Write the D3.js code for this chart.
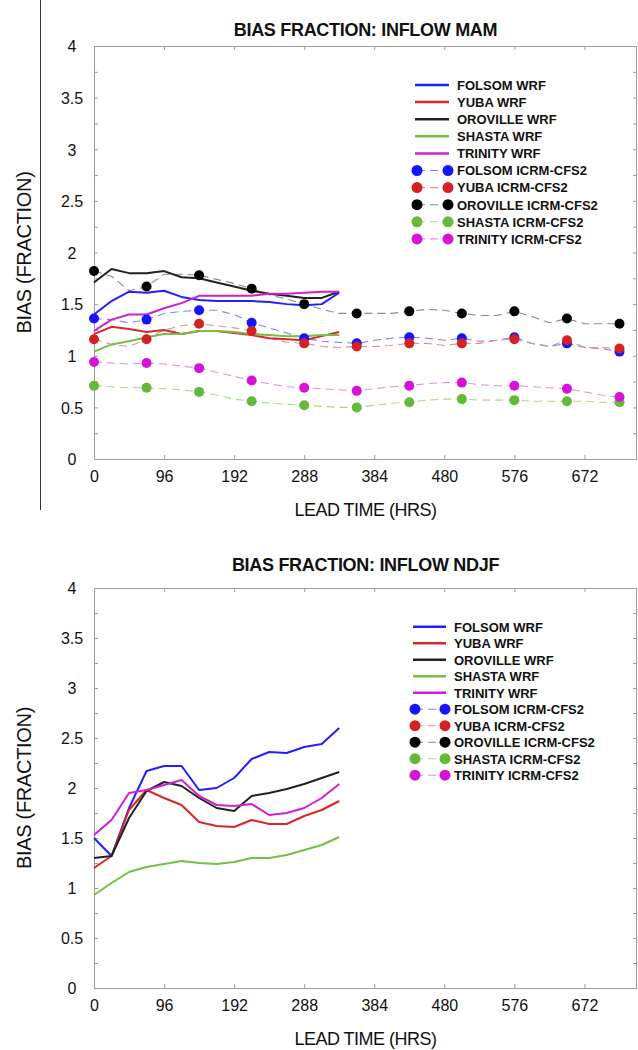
<!DOCTYPE html>
<html><head><meta charset="utf-8">
<script src="https://cdn.jsdelivr.net/npm/d3@7"></script>
<style>
html,body{margin:0;padding:0;background:#fff;}
svg text{font-family:"Liberation Sans",Arial,Helvetica,sans-serif;fill:#111;}
</style></head><body>
<svg id="fig" width="638" height="1050"></svg>
<script>
// ---- data ----
const stations = ["FOLSOM", "YUBA", "OROVILLE", "SHASTA", "TRINITY"];
const lineColors = ["#2020ff", "#d92626", "#222222", "#74c043", "#d21ed2"];
const dotColors = ["#1414ff", "#d42222", "#000000", "#64b83a", "#d612d6"];
const dashColors = ["#8080ff", "#ec8a8a", "#8a8a8a", "#a8da88", "#ec8aec"];

const xTicks = [0, 96, 192, 288, 384, 480, 576, 672];
const yTicks = [0, 0.5, 1, 1.5, 2, 2.5, 3, 3.5, 4];
const yMinorTicks = [0.25, 0.75, 1.25, 1.75, 2.25, 2.75, 3.25, 3.75];

// WRF lead times (hours), daily out to 14 days
const wrfHours = [0, 24, 48, 72, 96, 120, 144, 168, 192, 216, 240, 264, 288, 312, 336];
// ICRM-CFS2 lead times (hours), daily out to 30 days; markers every 72 h
const icrmHours = [0, 24, 48, 72, 96, 120, 144, 168, 192, 216, 240, 264, 288, 312, 336, 360,
  384, 408, 432, 456, 480, 504, 528, 552, 576, 600, 624, 648, 672, 696, 720];

// MAM inflow bias, WRF
const mamWrfFolsom   = [1.40, 1.53, 1.62, 1.61, 1.63, 1.57, 1.54, 1.53, 1.53, 1.53, 1.52, 1.50, 1.49, 1.50, 1.61];
const mamWrfYuba     = [1.21, 1.28, 1.26, 1.23, 1.25, 1.21, 1.24, 1.24, 1.22, 1.20, 1.17, 1.16, 1.15, 1.19, 1.23];
const mamWrfOroville = [1.71, 1.84, 1.80, 1.80, 1.82, 1.76, 1.75, 1.71, 1.67, 1.63, 1.60, 1.58, 1.56, 1.56, 1.62];
const mamWrfShasta   = [1.04, 1.11, 1.14, 1.18, 1.21, 1.21, 1.24, 1.24, 1.23, 1.21, 1.20, 1.19, 1.19, 1.20, 1.20];
const mamWrfTrinity  = [1.24, 1.35, 1.40, 1.40, 1.46, 1.51, 1.58, 1.58, 1.58, 1.58, 1.60, 1.60, 1.61, 1.62, 1.62];

// MAM inflow bias, ICRM-CFS2
const mamIcrmFolsom   = [1.36, 1.35, 1.32, 1.35, 1.41, 1.43, 1.44, 1.44, 1.40, 1.32, 1.27, 1.22, 1.17, 1.14, 1.13, 1.12,
  1.15, 1.17, 1.18, 1.17, 1.15, 1.17, 1.14, 1.15, 1.18, 1.12, 1.09, 1.12, 1.08, 1.07, 1.04];
const mamIcrmYuba     = [1.16, 1.11, 1.09, 1.16, 1.25, 1.29, 1.31, 1.29, 1.27, 1.24, 1.17, 1.13, 1.12, 1.09, 1.08, 1.09,
  1.09, 1.10, 1.12, 1.12, 1.10, 1.12, 1.12, 1.15, 1.16, 1.12, 1.09, 1.15, 1.08, 1.08, 1.07];
const mamIcrmOroville = [1.82, 1.77, 1.63, 1.67, 1.79, 1.79, 1.78, 1.74, 1.70, 1.65, 1.59, 1.55, 1.50, 1.45, 1.41, 1.41,
  1.41, 1.41, 1.43, 1.45, 1.44, 1.41, 1.39, 1.39, 1.43, 1.38, 1.32, 1.36, 1.31, 1.31, 1.31];
const mamIcrmShasta   = [0.71, 0.70, 0.69, 0.69, 0.68, 0.67, 0.65, 0.62, 0.58, 0.56, 0.54, 0.53, 0.52, 0.51, 0.50, 0.50,
  0.52, 0.54, 0.55, 0.57, 0.58, 0.58, 0.57, 0.57, 0.57, 0.56, 0.56, 0.56, 0.56, 0.55, 0.55];
const mamIcrmTrinity  = [0.94, 0.93, 0.92, 0.93, 0.92, 0.90, 0.88, 0.84, 0.80, 0.76, 0.73, 0.70, 0.69, 0.68, 0.67, 0.66,
  0.68, 0.70, 0.71, 0.73, 0.74, 0.74, 0.72, 0.71, 0.71, 0.70, 0.69, 0.68, 0.65, 0.62, 0.60];

// NDJF inflow bias, WRF
const ndjfWrfFolsom   = [1.50, 1.32, 1.80, 2.17, 2.22, 2.22, 1.98, 2.00, 2.10, 2.29, 2.36, 2.35, 2.41, 2.44, 2.60];
const ndjfWrfYuba     = [1.20, 1.32, 1.78, 1.98, 1.90, 1.83, 1.66, 1.62, 1.61, 1.68, 1.64, 1.64, 1.72, 1.78, 1.87];
const ndjfWrfOroville = [1.30, 1.32, 1.70, 1.97, 2.06, 2.02, 1.90, 1.80, 1.77, 1.92, 1.95, 1.99, 2.04, 2.10, 2.16];
const ndjfWrfShasta   = [0.93, 1.05, 1.16, 1.21, 1.24, 1.27, 1.25, 1.24, 1.26, 1.30, 1.30, 1.33, 1.38, 1.43, 1.51];
const ndjfWrfTrinity  = [1.53, 1.68, 1.95, 1.98, 2.03, 2.08, 1.92, 1.83, 1.82, 1.84, 1.73, 1.75, 1.80, 1.90, 2.04];

const legendLabels = ["FOLSOM WRF", "YUBA WRF", "OROVILLE WRF", "SHASTA WRF", "TRINITY WRF",
  "FOLSOM ICRM-CFS2", "YUBA ICRM-CFS2", "OROVILLE ICRM-CFS2", "SHASTA ICRM-CFS2", "TRINITY ICRM-CFS2"];

const svg = d3.select("#fig");

// thin vertical rule at the left of the upper panel
svg.append("line").attr("x1", 40.5).attr("x2", 40.5).attr("y1", 0).attr("y2", 510)
  .attr("stroke", "#333").attr("stroke-width", 1);

function panel(opt) {
  const g = svg.append("g");
  const x = d3.scaleLinear().domain([0, 744]).range([opt.left, opt.right]);
  const y = d3.scaleLinear().domain([0, 4]).range([opt.bottom, opt.top]);
  const frameColor = "#9c9c9c";

  // title
  g.append("text").attr("x", (opt.left + opt.right) / 2).attr("y", opt.titleY)
    .attr("text-anchor", "middle").attr("font-size", 18).attr("font-weight", "bold")
    .attr("letter-spacing", -0.3).text(opt.title);

  // axes with inward ticks
  const styleAxis = sel => {
    sel.select(".domain").remove();
    sel.selectAll(".tick line").attr("stroke", frameColor);
    sel.selectAll(".tick text").attr("font-size", 16).attr("fill", "#111")
      .attr("font-family", '"Liberation Sans", Arial, sans-serif');
  };
  g.append("g").attr("transform", `translate(0,${opt.bottom})`)
    .call(d3.axisBottom(x).tickValues(xTicks).tickSize(-4).tickPadding(12).tickFormat(d3.format("d")))
    .call(styleAxis);
  g.append("g").attr("transform", `translate(0,${opt.top})`)
    .call(d3.axisTop(x).tickValues(xTicks).tickSize(-4).tickFormat(""))
    .call(styleAxis);
  const yl = g.append("g").attr("transform", `translate(${opt.left},0)`)
    .call(d3.axisLeft(y).tickValues(yTicks).tickSize(-4).tickFormat(d3.format("")))
    .call(styleAxis);
  yl.selectAll(".tick text").attr("text-anchor", "middle").attr("x", -22).attr("dy", "0.36em");
  g.append("g").attr("transform", `translate(${opt.left},0)`)
    .call(d3.axisLeft(y).tickValues(yMinorTicks).tickSize(-4).tickFormat(""))
    .call(styleAxis);
  g.append("g").attr("transform", `translate(${opt.right},0)`)
    .call(d3.axisRight(y).tickValues(yTicks.concat(yMinorTicks)).tickSize(-4).tickFormat(""))
    .call(styleAxis);

  g.append("rect").attr("x", opt.left + 0.5).attr("y", opt.top + 0.5)
    .attr("width", opt.right - opt.left - 1).attr("height", opt.bottom - opt.top)
    .attr("fill", "none").attr("stroke", frameColor).attr("stroke-width", 1);

  // axis titles
  g.append("text").attr("x", (opt.left + opt.right) / 2).attr("y", opt.bottom + 57)
    .attr("text-anchor", "middle").attr("font-size", 18).attr("letter-spacing", -0.5)
    .text("LEAD TIME (HRS)");
  g.append("text")
    .attr("transform", `translate(31,${(opt.top + opt.bottom) / 2}) rotate(-90)`)
    .attr("text-anchor", "middle").attr("font-size", 20).attr("letter-spacing", -0.3)
    .text("BIAS (FRACTION)");

  const line = d3.line().x(d => x(d[0])).y(d => y(d[1]));

  // ICRM-CFS2 dashed lines
  (opt.icrm || []).forEach((vals, k) => {
    const pts = icrmHours.map((h, i) => [h, vals[i]]);
    g.append("path").attr("d", line(pts)).attr("fill", "none")
      .attr("stroke", dashColors[k]).attr("stroke-width", 1.1).attr("stroke-dasharray", "8,5");
  });
  // WRF solid lines
  opt.wrf.forEach((vals, k) => {
    const pts = wrfHours.map((h, i) => [h, vals[i]]);
    g.append("path").attr("d", line(pts)).attr("fill", "none")
      .attr("stroke", lineColors[k]).attr("stroke-width", 2).attr("stroke-linejoin", "round");
  });
  // ICRM-CFS2 markers every 72 h
  (opt.icrm || []).forEach((vals, k) => {
    const pts = icrmHours.map((h, i) => [h, vals[i]]).filter(p => p[0] % 72 === 0);
    g.selectAll(null).data(pts).enter().append("circle")
      .attr("cx", d => x(d[0])).attr("cy", d => y(d[1])).attr("r", 5)
      .attr("fill", dotColors[k]);
  });

  // legend
  const lg = g.append("g");
  legendLabels.forEach((lab, i) => {
    const ry = opt.legY + i * opt.legStep;
    const k = i % 5;
    if (i < 5) {
      lg.append("line").attr("x1", opt.legX0).attr("x2", opt.legX1).attr("y1", ry).attr("y2", ry)
        .attr("stroke", lineColors[k]).attr("stroke-width", 2.5);
    } else {
      lg.append("line").attr("x1", opt.legX0 + 2).attr("x2", opt.legX1 - 2).attr("y1", ry).attr("y2", ry)
        .attr("stroke", dashColors[k]).attr("stroke-width", 1.1).attr("stroke-dasharray", "8,5");
      [opt.legX0 + 2, opt.legX1 - 1].forEach(cx =>
        lg.append("circle").attr("cx", cx).attr("cy", ry).attr("r", 5.5).attr("fill", dotColors[k]));
    }
    lg.append("text").attr("x", opt.legText).attr("y", ry + 4.8)
      .attr("font-size", 13).attr("font-weight", "bold").text(lab);
  });
}

panel({
  title: "BIAS FRACTION: INFLOW MAM", titleY: 36,
  left: 94, right: 637, top: 46, bottom: 459,
  wrf: [mamWrfFolsom, mamWrfYuba, mamWrfOroville, mamWrfShasta, mamWrfTrinity],
  icrm: [mamIcrmFolsom, mamIcrmYuba, mamIcrmOroville, mamIcrmShasta, mamIcrmTrinity],
  legY: 85, legStep: 17.1, legX0: 415, legX1: 449, legText: 457
});
panel({
  title: "BIAS FRACTION: INFLOW NDJF", titleY: 571,
  left: 94, right: 637, top: 588, bottom: 988,
  wrf: [ndjfWrfFolsom, ndjfWrfYuba, ndjfWrfOroville, ndjfWrfShasta, ndjfWrfTrinity],
  icrm: null,
  legY: 626.7, legStep: 16.5, legX0: 413, legX1: 446, legText: 454
});
</script>
</body></html>
